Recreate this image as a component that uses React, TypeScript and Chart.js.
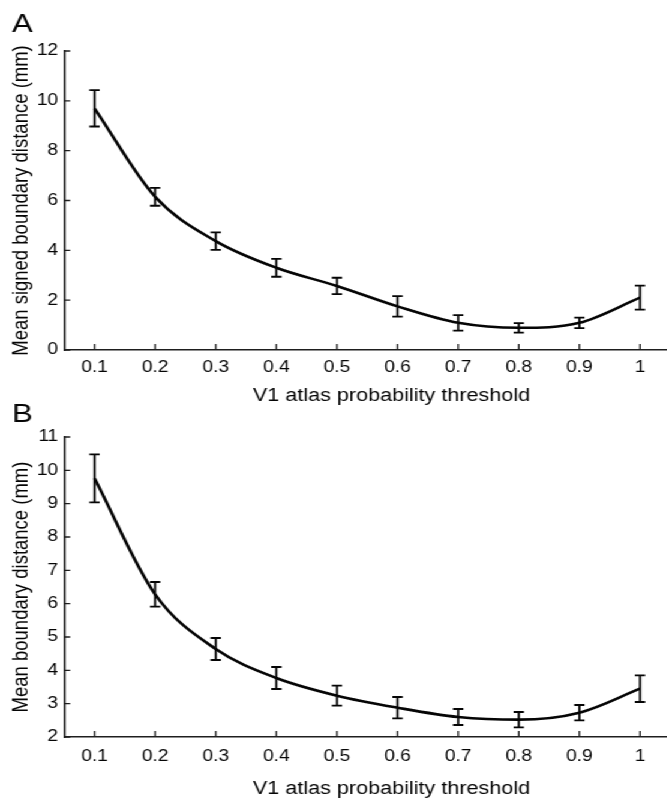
import React, { useEffect, useRef } from "react";
import { Chart, registerables } from "chart.js";

Chart.register(...registerables);

// ---- data ----
const THRESHOLDS = [0.1, 0.2, 0.3, 0.4, 0.5, 0.6, 0.7, 0.8, 0.9, 1.0];
const SIGNED_MEAN = [9.7, 6.15, 4.37, 3.3, 2.57, 1.75, 1.09, 0.89, 1.09, 2.1];
const SIGNED_ERR = [0.73, 0.36, 0.35, 0.36, 0.33, 0.41, 0.31, 0.19, 0.21, 0.48];
const ABS_MEAN = [9.76, 6.28, 4.64, 3.77, 3.24, 2.88, 2.6, 2.52, 2.73, 3.45];
const ABS_ERR = [0.72, 0.37, 0.33, 0.33, 0.3, 0.32, 0.24, 0.23, 0.23, 0.4];
const SIGNED_Y_TICKS = [0, 2, 4, 6, 8, 10, 12];
const ABS_Y_TICKS = [2, 3, 4, 5, 6, 7, 8, 9, 10, 11];
const X_TITLE = "V1 atlas probability threshold";
const SIGNED_Y_TITLE = "Mean signed boundary distance (mm)";
const ABS_Y_TITLE = "Mean boundary distance (mm)";

// ---- style ----
const STRETCH = 1.2;
const CW = 599;
const FONT = "'Liberation Sans', Arial, Helvetica, sans-serif";
const INK = "#050505";
const AXIS = "#1e1e1e";

const fmt = (v: number) => String(Math.round(v * 10) / 10);

const errorBarPlugin = {
  id: "errorBars",
  afterDatasetsDraw(chart: any) {
    const ds = chart.data.datasets[0];
    const err: number[] = ds.errors;
    const xs = chart.scales.x;
    const ys = chart.scales.y;
    const ctx = chart.ctx;
    ctx.save();
    ctx.strokeStyle = INK;
    ctx.lineWidth = 1.8;
    const cap = 4.3;
    ds.data.forEach((p: any, i: number) => {
      const x = xs.getPixelForValue(p.x);
      const yt = ys.getPixelForValue(p.y + err[i]);
      const yb = ys.getPixelForValue(p.y - err[i]);
      ctx.beginPath();
      ctx.moveTo(x, yt);
      ctx.lineTo(x, yb);
      ctx.moveTo(x - cap, yt);
      ctx.lineTo(x + cap, yt);
      ctx.moveTo(x - cap, yb);
      ctx.lineTo(x + cap, yb);
      ctx.stroke();
    });
    ctx.restore();
  },
};

const inwardTicksPlugin = {
  id: "inwardTicks",
  afterDraw(chart: any) {
    const { ctx, chartArea } = chart;
    const xs = chart.scales.x;
    const ys = chart.scales.y;
    ctx.save();
    ctx.strokeStyle = AXIS;
    ctx.lineWidth = 1.3;
    ctx.beginPath();
    xs.ticks.forEach((t: any) => {
      const x = xs.getPixelForValue(t.value);
      ctx.moveTo(x, chartArea.bottom);
      ctx.lineTo(x, chartArea.bottom - 6);
    });
    ys.ticks.forEach((t: any) => {
      const y = ys.getPixelForValue(t.value);
      ctx.moveTo(chartArea.left, y);
      ctx.lineTo(chartArea.left + 5, y);
    });
    ctx.stroke();
    ctx.restore();
  },
};

const panelLabelPlugin = {
  id: "panelLabel",
  afterDraw(chart: any, _args: any, opts: any) {
    const ctx = chart.ctx;
    ctx.save();
    ctx.fillStyle = INK;
    ctx.font = `26px ${FONT}`;
    ctx.textAlign = "left";
    ctx.textBaseline = "alphabetic";
    ctx.fillText(opts.text, opts.x, opts.y);
    ctx.restore();
  },
};

function makeConfig(p: {
  mean: number[];
  err: number[];
  yTicks: number[];
  yTitle: string;
  letter: string;
  letterY: number;
  padTop: number;
  xHeight: number;
  xTitlePad: number;
  xTickPad: number;
}) {
  return {
    type: "line",
    data: {
      datasets: [
        {
          data: THRESHOLDS.map((x, i) => ({ x, y: p.mean[i] })),
          errors: p.err,
          borderColor: INK,
          borderWidth: 2.6,
          pointRadius: 0,
          fill: false,
          cubicInterpolationMode: "monotone",
        },
      ],
    },
    options: {
      responsive: false,
      animation: false,
      devicePixelRatio: 1,
      layout: { padding: { top: p.padTop, left: 0, right: 0, bottom: 0 } },
      plugins: {
        legend: { display: false },
        tooltip: { enabled: false },
        title: { display: false },
        panelLabel: { text: p.letter, x: 10, y: p.letterY },
      },
      scales: {
        x: {
          type: "linear",
          min: 0.05,
          max: 1.13,
          afterBuildTicks: (s: any) => {
            s.ticks = THRESHOLDS.map((v) => ({ value: v }));
          },
          afterFit: (s: any) => {
            s.height = p.xHeight;
          },
          grid: { display: false, drawTicks: false },
          border: { display: true, color: AXIS, width: 1.6 },
          ticks: {
            color: INK,
            font: { family: FONT, size: 16 },
            padding: p.xTickPad,
            maxRotation: 0,
            autoSkip: false,
            callback: (v: any) => fmt(Number(v)),
          },
          title: {
            display: true,
            text: X_TITLE,
            color: INK,
            font: { family: FONT, size: 18, lineHeight: 1 },
            padding: { top: 0, bottom: p.xTitlePad },
          },
        },
        y: {
          type: "linear",
          min: p.yTicks[0],
          max: p.yTicks[p.yTicks.length - 1],
          afterBuildTicks: (s: any) => {
            s.ticks = p.yTicks.map((v) => ({ value: v }));
          },
          afterFit: (s: any) => {
            s.width = 53.5;
          },
          grid: { display: false, drawTicks: false },
          border: { display: true, color: AXIS, width: 1.6 },
          ticks: {
            color: INK,
            font: { family: FONT, size: 16 },
            padding: 5,
            callback: (v: any) => String(v),
          },
          title: {
            display: true,
            text: p.yTitle,
            color: INK,
            font: { family: FONT, size: 18.5, lineHeight: 1 },
            padding: { top: 9, bottom: 0 },
          },
        },
      },
    },
    plugins: [errorBarPlugin, inwardTicksPlugin, panelLabelPlugin],
  };
}

export default function App() {
  const aRef = useRef<HTMLCanvasElement>(null);
  const bRef = useRef<HTMLCanvasElement>(null);

  useEffect(() => {
    const a = new Chart(
      aRef.current as any,
      makeConfig({
        mean: SIGNED_MEAN,
        err: SIGNED_ERR,
        yTicks: SIGNED_Y_TICKS,
        yTitle: SIGNED_Y_TITLE,
        letter: "A",
        letterY: 32,
        padTop: 51,
        xHeight: 65,
        xTitlePad: 10,
        xTickPad: 8,
      }) as any
    );
    const b = new Chart(
      bRef.current as any,
      makeConfig({
        mean: ABS_MEAN,
        err: ABS_ERR,
        yTicks: ABS_Y_TICKS,
        yTitle: ABS_Y_TITLE,
        letter: "B",
        letterY: 22,
        padTop: 37,
        xHeight: 62,
        xTitlePad: 1,
        xTickPad: 10,
      }) as any
    );
    return () => {
      a.destroy();
      b.destroy();
    };
  }, []);

  return (
    <div
      style={{
        position: "absolute",
        left: 0,
        top: 0,
        width: 667,
        height: 799,
        overflow: "hidden",
        background: "#fff",
      }}
    >
      <div
        style={{
          position: "absolute",
          left: 0,
          top: 0,
          width: CW,
          height: 799,
          transform: `scaleX(${STRETCH})`,
          transformOrigin: "0 0",
        }}
      >
        <canvas
          ref={aRef}
          width={CW}
          height={415}
          style={{ position: "absolute", left: 0, top: 0 }}
        />
        <canvas
          ref={bRef}
          width={CW}
          height={399}
          style={{ position: "absolute", left: 0, top: 400 }}
        />
      </div>
    </div>
  );
}
